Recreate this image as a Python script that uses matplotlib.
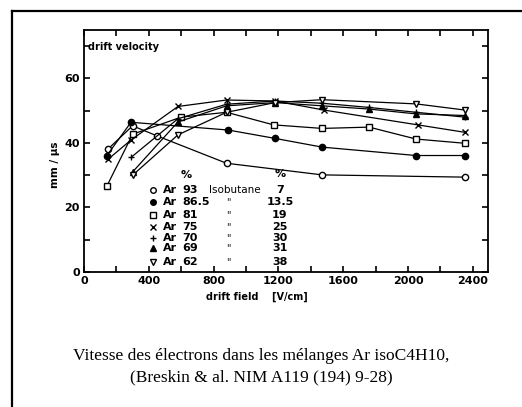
import matplotlib
matplotlib.use("Agg")
import matplotlib.pyplot as plt
from matplotlib.lines import Line2D

# drift field (V/cm) and drift velocity (mm/us)
ar93_x = [150, 300, 450, 880, 1470, 2350]
ar93_y = [38.2, 45.3, 42.2, 33.7, 30.1, 29.4]

ar865_x = [140, 290, 890, 1180, 1470, 2050, 2350]
ar865_y = [36.0, 46.4, 44.0, 41.4, 38.7, 36.1, 36.1]

ar81_x = [140, 300, 600, 880, 1170, 1470, 1760, 2050, 2350]
ar81_y = [26.5, 42.7, 48.0, 49.5, 45.6, 44.5, 44.9, 41.2, 39.9]

ar75_x = [150, 290, 580, 880, 1180, 1480, 2060, 2350]
ar75_y = [35.0, 40.9, 51.3, 53.3, 53.0, 50.2, 45.6, 43.3]

ar70_x = [290, 580, 880, 1180, 1470, 1760, 2050, 2350]
ar70_y = [35.5, 47.5, 52.0, 53.0, 52.3, 51.0, 49.5, 48.0]

ar69_x = [300, 580, 880, 1180, 1470, 1760, 2050, 2350]
ar69_y = [31.0, 46.5, 51.5, 52.5, 51.5, 50.5, 49.0, 48.5]

ar62_x = [300, 580, 880, 1180, 1470, 2050, 2350]
ar62_y = [30.0, 42.5, 49.5, 52.5, 53.4, 52.1, 50.2]

ar_pct = ['93', '86.5', '81', '75', '70', '69', '62']
iso_pct = ['7', '13.5', '19', '25', '30', '31', '38']

series = [
    (ar93_x, ar93_y, dict(marker='o', mfc='white')),
    (ar865_x, ar865_y, dict(marker='o', mfc='black')),
    (ar81_x, ar81_y, dict(marker='s', mfc='white')),
    (ar75_x, ar75_y, dict(marker='x', mfc='black')),
    (ar70_x, ar70_y, dict(marker='+', mfc='black')),
    (ar69_x, ar69_y, dict(marker='^', mfc='black')),
    (ar62_x, ar62_y, dict(marker='v', mfc='white')),
]

fig = plt.figure(figsize=(5.22, 4.07), dpi=100)
ax = fig.add_axes([84 / 522, 1 - 272 / 407, 404 / 522, 242 / 407])

for xs, ys, st in series:
    ax.plot(xs, ys, color='black', lw=0.9, mec='black', ms=4.5, mew=1.0, **st)

ax.set_xlim(0, 2494)
ax.set_ylim(0, 75)

xt = list(range(0, 2401, 200))
ax.set_xticks(xt)
ax.set_xticklabels([str(v) if v % 400 == 0 else '' for v in xt])
yt = list(range(0, 71, 10))
ax.set_yticks(yt)
ax.set_yticklabels([str(v) if v % 20 == 0 else '' for v in yt])
ax.tick_params(direction='in', length=4, width=1.2, top=True, right=True,
               labelsize=8, pad=3)
for lab in ax.get_xticklabels() + ax.get_yticklabels():
    lab.set_fontweight('bold')
for sp in ax.spines.values():
    sp.set_linewidth(1.3)

ax.text(0.01, 0.93, 'drift velocity', transform=ax.transAxes, fontsize=7,
        fontweight='bold', va='center')

# legend table
rows_y = [0.339, 0.290, 0.2355, 0.187, 0.142, 0.098, 0.0426]
ax.text(0.254, 0.40, '%', transform=ax.transAxes, fontsize=8, fontweight='bold',
        ha='center', va='center')
ax.text(0.485, 0.405, '%', transform=ax.transAxes, fontsize=8, fontweight='bold',
        ha='center', va='center')
for i, (xs, ys, st) in enumerate(series):
    ry = rows_y[i]
    ax.plot([0.1715], [ry], transform=ax.transAxes, color='black', mec='black',
            ms=4, mew=1.0, clip_on=False, **st)
    ax.text(0.195, ry, 'Ar', transform=ax.transAxes, fontsize=8,
            fontweight='bold', va='center')
    ax.text(0.244, ry, ar_pct[i], transform=ax.transAxes, fontsize=8,
            fontweight='bold', va='center')
    if i == 0:
        ax.text(0.31, ry, 'Isobutane', transform=ax.transAxes, fontsize=7.5,
                va='center')
    else:
        ax.text(0.357, ry, '"', transform=ax.transAxes, fontsize=7,
                va='center', ha='center')
    ax.text(0.485, ry, iso_pct[i], transform=ax.transAxes, fontsize=8,
            fontweight='bold', va='center', ha='center')

fig.text(55 / 522, 1 - 165 / 407, 'mm / µs', rotation=90, fontsize=7.5,
         fontweight='bold', ha='center', va='center')
fig.text(257 / 522, 1 - 297 / 407, 'drift field    [V/cm]', fontsize=7,
         fontweight='bold', ha='center', va='center')

fig.text(0.5, 1 - 356 / 407, 'Vitesse des électrons dans les mélanges Ar isoC4H10,',
         family='Liberation Serif', fontsize=12.5, ha='center', va='center')
fig.text(0.5, 1 - 377 / 407, '(Breskin & al. NIM A119 (194) 9-28)',
         family='Liberation Serif', fontsize=12.5, ha='center', va='center')

# outer frame (left and top edges visible)
fig.add_artist(Line2D([12 / 522, 12 / 522], [0, 1 - 11 / 407], color='black', lw=1.6))
fig.add_artist(Line2D([12 / 522, 1], [1 - 11 / 407, 1 - 11 / 407], color='black', lw=1.6))

fig.savefig('out.png', dpi=100)
